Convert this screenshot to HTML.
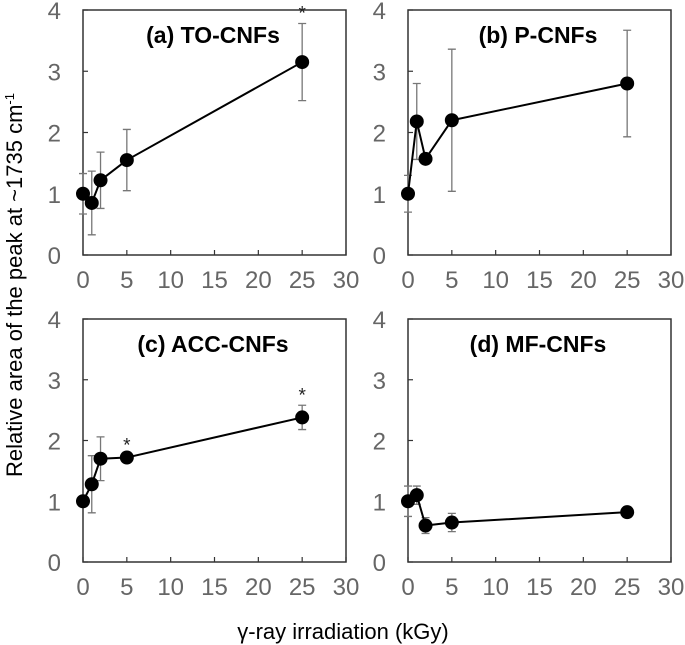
<!DOCTYPE html>
<html><head><meta charset="utf-8"><style>
body{margin:0;background:#fff;width:685px;height:645px;overflow:hidden}
svg{display:block;font-family:"Liberation Sans",sans-serif}
</style></head><body>
<svg id="chart" width="685" height="645"></svg>
<script>
const doses = [0, 1, 2, 5, 25];
const xTicks = [0, 5, 10, 15, 20, 25, 30];
const yTicks = [0, 1, 2, 3, 4];
const titles = ["(a) TO-CNFs", "(b) P-CNFs", "(c) ACC-CNFs", "(d) MF-CNFs"];
const valsA = [1.0, 0.85, 1.22, 1.55, 3.15];
const errA = [0.33, 0.52, 0.46, 0.5, 0.63];
const starA = [false, false, false, false, true];
const valsB = [1.0, 2.18, 1.57, 2.2, 2.8];
const errB = [0.3, 0.62, 0.08, 1.16, 0.87];
const starB = [false, false, false, false, false];
const valsC = [1.0, 1.28, 1.7, 1.72, 2.38];
const errC = [0.05, 0.47, 0.36, 0.03, 0.2];
const starC = [false, false, false, true, true];
const valsD = [1.0, 1.1, 0.6, 0.65, 0.82];
const errD = [0.25, 0.15, 0.13, 0.15, 0.03];
const starD = [false, false, false, false, false];

const NS = "http://www.w3.org/2000/svg";
const svg = document.getElementById("chart");
function mk(tag, attrs, parent){const e=document.createElementNS(NS,tag);for(const k in attrs)e.setAttribute(k,attrs[k]);(parent||svg).appendChild(e);return e;}

const panels = [
 {l:83,t:10,b:255,vals:valsA,err:errA,star:starA,key:"a"},
 {l:408,t:10,b:255,vals:valsB,err:errB,star:starB,key:"b"},
 {l:83,t:319,b:562,vals:valsC,err:errC,star:starC,key:"c"},
 {l:408,t:319,b:562,vals:valsD,err:errD,star:starD,key:"d"}
];
const W = 263;
panels.forEach((p,i)=>{
  const g = mk("g",{});
  
  
  const xs = v => p.l + v / 30 * W;
  const ys = v => p.b - v / 4 * (p.b - p.t);
  const box = mk("rect",{x:p.l,y:p.t,width:W,height:p.b-p.t,fill:"none",stroke:"#333","stroke-width":1.5},g);
  
  
  xTicks.forEach(v=>{
    mk("line",{x1:xs(v),x2:xs(v),y1:p.b,y2:p.b-5,stroke:"#333","stroke-width":1.2},g);
    const t = mk("text",{x:xs(v),y:p.b+33,"text-anchor":"middle","font-size":24,fill:"#666"},g);
    t.textContent = v;
    
    
  });
  yTicks.forEach(v=>{
    mk("line",{x1:p.l,x2:p.l+5,y1:ys(v),y2:ys(v),stroke:"#333","stroke-width":1.2},g);
    const t = mk("text",{x:p.l-22,y:ys(v)+9,"text-anchor":"end","font-size":24,fill:"#666"},g);
    t.textContent = v;
    
    
  });
  const title = mk("text",{x:p.l+130,y:p.t+33,"text-anchor":"middle","font-size":23,"font-weight":"bold",fill:"#000"},g);
  title.textContent = titles[i];
  
  
  doses.forEach((d,j)=>{
    const x = xs(d), lo = ys(p.vals[j]-p.err[j]), hi = ys(p.vals[j]+p.err[j]);
    const eb = mk("path",{d:`M${x} ${lo}V${hi}M${x-4} ${lo}H${x+4}M${x-4} ${hi}H${x+4}`,stroke:"#777","stroke-width":1.3,fill:"none"},g);
    
    
  });
  const line = mk("polyline",{points:doses.map((d,j)=>xs(d)+","+ys(p.vals[j])).join(" "),fill:"none",stroke:"#000","stroke-width":2},g);
  
  
  doses.forEach((d,j)=>{
    const c = mk("circle",{cx:xs(d),cy:ys(p.vals[j]),r:7,fill:"#000"},g);
    
    
    if(p.star[j]){
      const s = mk("text",{x:xs(d),y:ys(p.vals[j]+p.err[j])-4,"text-anchor":"middle","font-size":19,fill:"#222"},g);
      s.textContent = "*";
      
      
    }
  });
});
const yl = mk("text",{x:0,y:0,transform:"translate(22,285) rotate(-90)","text-anchor":"middle","font-size":22,fill:"#000"});
yl.innerHTML = 'Relative area of the peak at ~1735 cm<tspan dy="-8" font-size="13">-1</tspan>';


const xl = mk("text",{x:343,y:639,"text-anchor":"middle","font-size":22,fill:"#000"});
xl.textContent = "γ-ray irradiation (kGy)";


</script>
</body></html>
